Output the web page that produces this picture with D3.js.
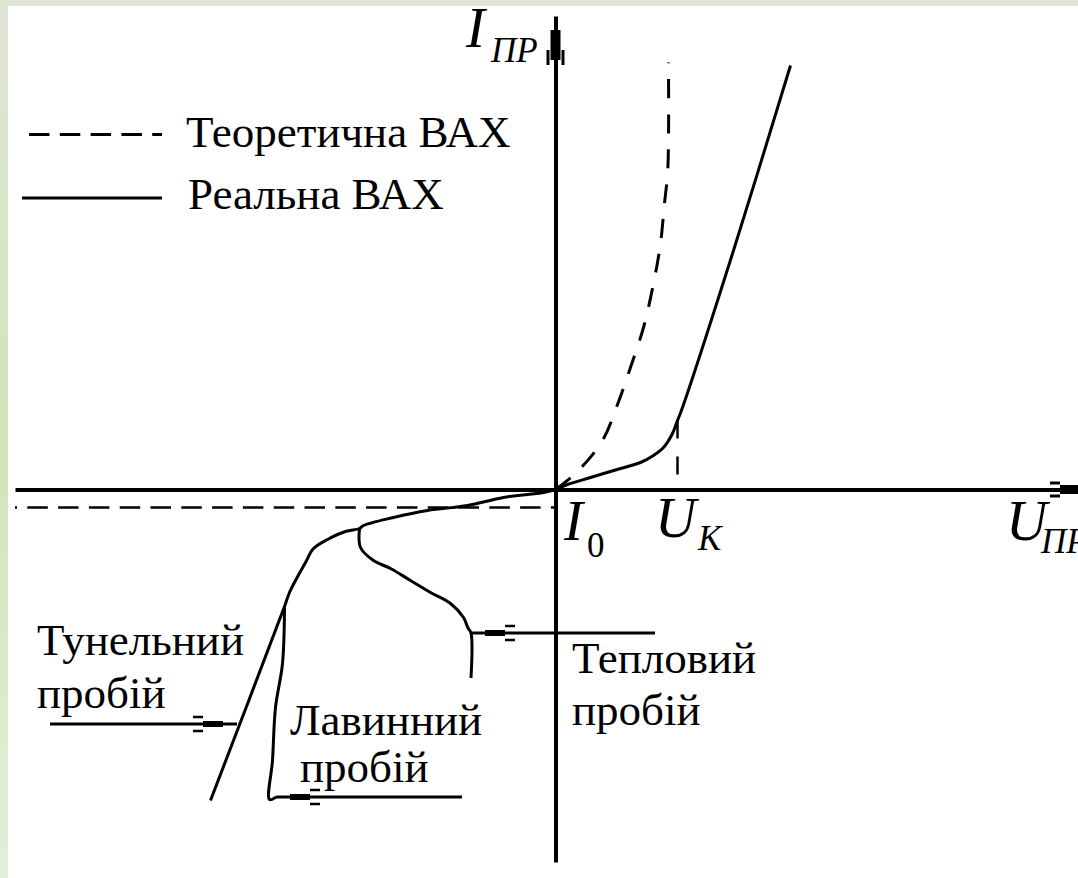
<!DOCTYPE html>
<html>
<head>
<meta charset="utf-8">
<script src="https://cdn.jsdelivr.net/npm/d3@7"></script>
<style>
  svg text { font-family: "Liberation Serif", "Times New Roman", Tinos !important; }
</style>
</head>
<body style="margin:0">
<svg id="chart" width="1078" height="878"></svg>
<script>
// Diode current-voltage characteristic (U in volts-like units, I in current units, arbitrary scale)

// Theoretical forward branch
const theoryFwdU = [0, 0.42, 0.94, 1.24, 1.5, 1.76, 1.96, 2.1, 2.18, 2.24, 2.26, 2.26];
const theoryFwdI = [0, 0.34, 0.98, 1.7, 2.44, 3.24, 4.12, 4.92, 5.72, 6.3, 7.0, 8.54];

// Theoretical reverse current I0 (flat)
const theoryRevU = [-10.81, 0];
const theoryRevI = [-0.36, -0.36];

// Real forward branch
const realFwdU = [0, 0.24, 0.7, 1.3, 1.7, 1.96, 2.16, 2.34, 2.44, 2.54, 3.56, 4.7];
const realFwdI = [0, 0.1, 0.24, 0.42, 0.54, 0.68, 0.84, 1.12, 1.38, 1.64, 4.78, 8.48];

// Real reverse branch, continuing into tunnel breakdown
const realRevU = [0, -0.24, -1.04, -1.76, -2.56, -3.24, -3.84, -3.92, -4.2, -4.56, -4.84, -5.0, -5.2, -5.32, -5.42, -6.9];
const realRevI = [0, -0.06, -0.16, -0.32, -0.42, -0.56, -0.72, -0.78, -0.84, -1.0, -1.18, -1.46, -1.82, -2.06, -2.34, -6.22];

// Avalanche breakdown branch
const avalancheU = [-5.42, -5.46, -5.6, -5.66, -5.72, -5.59];
const avalancheI = [-2.34, -3.48, -4.36, -5.42, -6.2, -6.15];

// Thermal breakdown branch
const thermalU = [-3.92, -3.9, -3.64, -3.3, -2.9, -2.5, -2.1, -1.84, -1.75, -1.69, -1.69];
const thermalI = [-0.78, -1.16, -1.42, -1.58, -1.82, -2.06, -2.28, -2.56, -2.77, -2.87, -3.77];

// Knee voltage U_K and its marker
const kneeU = 2.44;
const kneeI = [1.38, 0.25];

// Pointer arrows to breakdown regions: [tip-side U, far U, I]
const arrowTunnel = [-6.37, -10.11, -4.69];
const arrowThermal = [-1.69, 1.99, -2.87];
const arrowAvalanche = [-5.59, -1.87, -6.15];

// Axis extents
const uExtent = [-10.81, 10.45];
const iExtent = [-7.45, 9.47];

// Text labels
const legendTexts = ["Теоретична ВАХ", "Реальна ВАХ"];
const regionTexts = ["Тунельний", "пробій", "Лавинний", "пробій", "Тепловий", "пробій"];
const symbolTexts = ["I", "ПР", "I", "0", "U", "К", "U", "ПР"];

const W = 1078, H = 878;
const svg = d3.select("#chart");

// page background with a soft green edge
const defs = svg.append("defs");
const edge = defs.append("linearGradient").attr("id", "edge")
  .attr("x1", 0).attr("y1", 0).attr("x2", 0).attr("y2", 1);
edge.append("stop").attr("offset", "0%").attr("stop-color", "#e0e6d6");
edge.append("stop").attr("offset", "50%").attr("stop-color", "#d0e4ba");
edge.append("stop").attr("offset", "100%").attr("stop-color", "#e3efd9");
svg.append("rect").attr("width", W).attr("height", H).attr("fill", "#fff");
svg.append("rect").attr("x", 0).attr("y", 0).attr("width", 8).attr("height", H).attr("fill", "url(#edge)");
svg.append("rect").attr("x", 0).attr("y", 0).attr("width", W).attr("height", 6).attr("fill", "#e0e6d6");

// labels
function label(str, px, py, size, italic) {
  const t = svg.append("text").attr("x", px).attr("y", py)
    .attr("font-family", "Liberation Serif")
    .style("font-family", '"Liberation Serif", "Times New Roman", Tinos', "important")
    .attr("font-size", size)
    .attr("fill", "#000")
    .text(str);
  if (italic) t.style("font-style", "italic", "important");
  return t;
}

label(legendTexts[0], 186, 146.5, 45);
label(legendTexts[1], 188, 208.5, 45);

label(regionTexts[0], 37, 655, 45);
label(regionTexts[1], 37, 708, 45);
label(regionTexts[2], 290, 735, 45);
label(regionTexts[3], 300, 782, 45);
label(regionTexts[4], 572, 673, 45);
label(regionTexts[5], 572, 725, 45);

label(symbolTexts[0], 466, 47, 57, true);
label(symbolTexts[1], 491, 62, 35, true);
label(symbolTexts[2], 564, 540, 57, true);
label(symbolTexts[3], 587, 557, 35, false);
label(symbolTexts[4], 655, 537, 57, true);
label(symbolTexts[5], 698, 550, 35, true);
label(symbolTexts[6], 1006, 540, 57, true);
label(symbolTexts[7], 1041, 553, 35, true);

const x = d3.scaleLinear().domain(uExtent).range([15, 1078]);
const y = d3.scaleLinear().domain(iExtent).range([862, 16]);

const zip = (us, is) => us.map((u, k) => [u, is[k]]);
const smooth = d3.line().x(d => x(d[0])).y(d => y(d[1])).curve(d3.curveCatmullRom.alpha(0.5));
const straight = d3.line().x(d => x(d[0])).y(d => y(d[1]));

// axes (no ticks, just the lines)
const xAxis = svg.append("g").attr("transform", `translate(0,${y(0)})`)
  .call(d3.axisBottom(x).tickValues([]).tickSizeOuter(0));
const yAxis = svg.append("g").attr("transform", `translate(${x(0)},0)`)
  .call(d3.axisLeft(y).tickValues([]).tickSizeOuter(0));
[xAxis, yAxis].forEach(g => g.select(".domain").attr("stroke", "#000").attr("stroke-width", 4));

// arrowhead: thick bar near the tip plus two barbs behind it
function arrowHead(p, q, s) {
  const dx = q[0] - p[0], dy = q[1] - p[1];
  const len = Math.hypot(dx, dy);
  const ux = dx / len, uy = dy / len, nx = -uy, ny = ux;
  const at = (d, o) => [p[0] + ux * d + nx * o, p[1] + uy * d + ny * o];
  const g = svg.append("g").attr("stroke", "#000").attr("fill", "none");
  const a = at(s.thick[0], 0), b = at(s.thick[1], 0);
  g.append("line").attr("x1", a[0]).attr("y1", a[1]).attr("x2", b[0]).attr("y2", b[1])
    .attr("stroke-width", s.thickW);
  [-s.barbOff, s.barbOff].forEach(o => {
    const c = at(s.barb[0], o), e = at(s.barb[1], o);
    g.append("line").attr("x1", c[0]).attr("y1", c[1]).attr("x2", e[0]).attr("y2", e[1])
      .attr("stroke-width", s.barbW);
  });
}

arrowHead([x(0), y(iExtent[1])], [x(0), y(iExtent[0])],
  { thick: [14, 44], thickW: 10, barb: [34, 49], barbOff: 7.5, barbW: 3 });
arrowHead([1090, y(0)], [x(uExtent[0]), y(0)],
  { thick: [0, 30], thickW: 9, barb: [30, 40], barbOff: 6.5, barbW: 3 });

// curves
const curves = svg.append("g").attr("fill", "none").attr("stroke", "#000").attr("stroke-width", 3);
curves.append("path").attr("d", smooth(zip(theoryFwdU, theoryFwdI))).attr("stroke-dasharray", "19 16");
curves.append("path").attr("d", straight(zip(theoryRevU, theoryRevI)))
  .attr("stroke-width", 2.5).attr("stroke-dasharray", "20.5 10.3").attr("stroke-dashoffset", 18.5);
curves.append("path").attr("d", straight([[kneeU, kneeI[0]], [kneeU, kneeI[1]]]))
  .attr("stroke-width", 2.5).attr("stroke-dasharray", "18 18");
curves.append("path").attr("d", smooth(zip(realFwdU, realFwdI)));
curves.append("path").attr("d", smooth(zip(realRevU, realRevI)));
curves.append("path").attr("d", smooth(zip(avalancheU, avalancheI)));
curves.append("path").attr("d", smooth(zip(thermalU, thermalI)));

// breakdown pointers
const small = { thick: [14, 34], thickW: 6, barb: [34, 44], barbOff: 7, barbW: 2.5 };
[arrowTunnel, arrowThermal, arrowAvalanche].forEach(a => {
  curves.append("path").attr("d", straight([[a[0], a[2]], [a[1], a[2]]]));
  arrowHead([x(a[0]), y(a[2])], [x(a[1]), y(a[2])], small);
});

// legend samples
const legend = svg.append("g").attr("stroke", "#000").attr("stroke-width", 3);
legend.append("line").attr("x1", 29).attr("x2", 162).attr("y1", 134.5).attr("y2", 134.5)
  .attr("stroke-dasharray", "20.5 10.3");
legend.append("line").attr("x1", 22).attr("x2", 162).attr("y1", 198).attr("y2", 198);
</script>
</body>
</html>
